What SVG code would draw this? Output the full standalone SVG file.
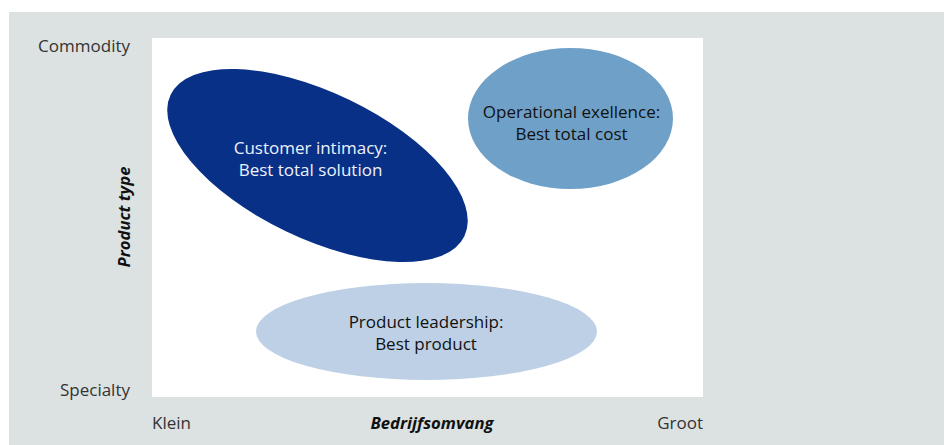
<svg xmlns="http://www.w3.org/2000/svg" width="944" height="445" viewBox="0 0 944 445">
  <style>
    .lbl { font-family: "Open Sans", "Noto Sans", sans-serif; font-size: 17px; fill: #333333; }
    .axis { font-family: "Open Sans", "Noto Sans", sans-serif; font-size: 16.7px; font-weight: bold; font-style: italic; fill: #111111; }
    .nt { font-family: "Open Sans", "Noto Sans", sans-serif; font-size: 17px; text-anchor: middle; }
  </style>
  <rect x="0" y="0" width="944" height="445" fill="#ffffff"/>
  <rect x="9" y="12" width="935" height="433" fill="#dce2e2"/>
  <rect x="152" y="38" width="551" height="359" fill="#ffffff"/>

  <text class="lbl" x="130" y="52" text-anchor="end">Commodity</text>
  <text class="lbl" x="130" y="396" text-anchor="end">Specialty</text>
  <text class="lbl" x="152" y="429">Klein</text>
  <text class="lbl" x="703" y="429" text-anchor="end">Groot</text>
  <text class="axis" x="432" y="429" text-anchor="middle">Bedrijfsomvang</text>
  <text class="axis" transform="translate(130,217) rotate(-90)" text-anchor="middle">Product type</text>

  <g id="customer-intimacy">
    <ellipse cx="317.5" cy="165.5" rx="163" ry="73" transform="rotate(25.7 317.5 165.5)" fill="#083087"/>
    <text class="nt" x="310.5" y="154" fill="#eef2fa">Customer intimacy:</text>
    <text class="nt" x="310.5" y="176" fill="#eef2fa">Best total solution</text>
  </g>

  <g id="operational-excellence">
    <ellipse cx="570.5" cy="118.5" rx="102.5" ry="70.5" fill="#6fa0c8"/>
    <text class="nt" x="571.5" y="118" fill="#111111">Operational exellence:</text>
    <text class="nt" x="571.5" y="140" fill="#111111">Best total cost</text>
  </g>

  <g id="product-leadership">
    <ellipse cx="426.5" cy="331.5" rx="170.5" ry="48.5" fill="#bdd0e5"/>
    <text class="nt" x="426" y="328" fill="#111111">Product leadership:</text>
    <text class="nt" x="426" y="350" fill="#111111">Best product</text>
  </g>

  <g id="connectors"/>
</svg>
